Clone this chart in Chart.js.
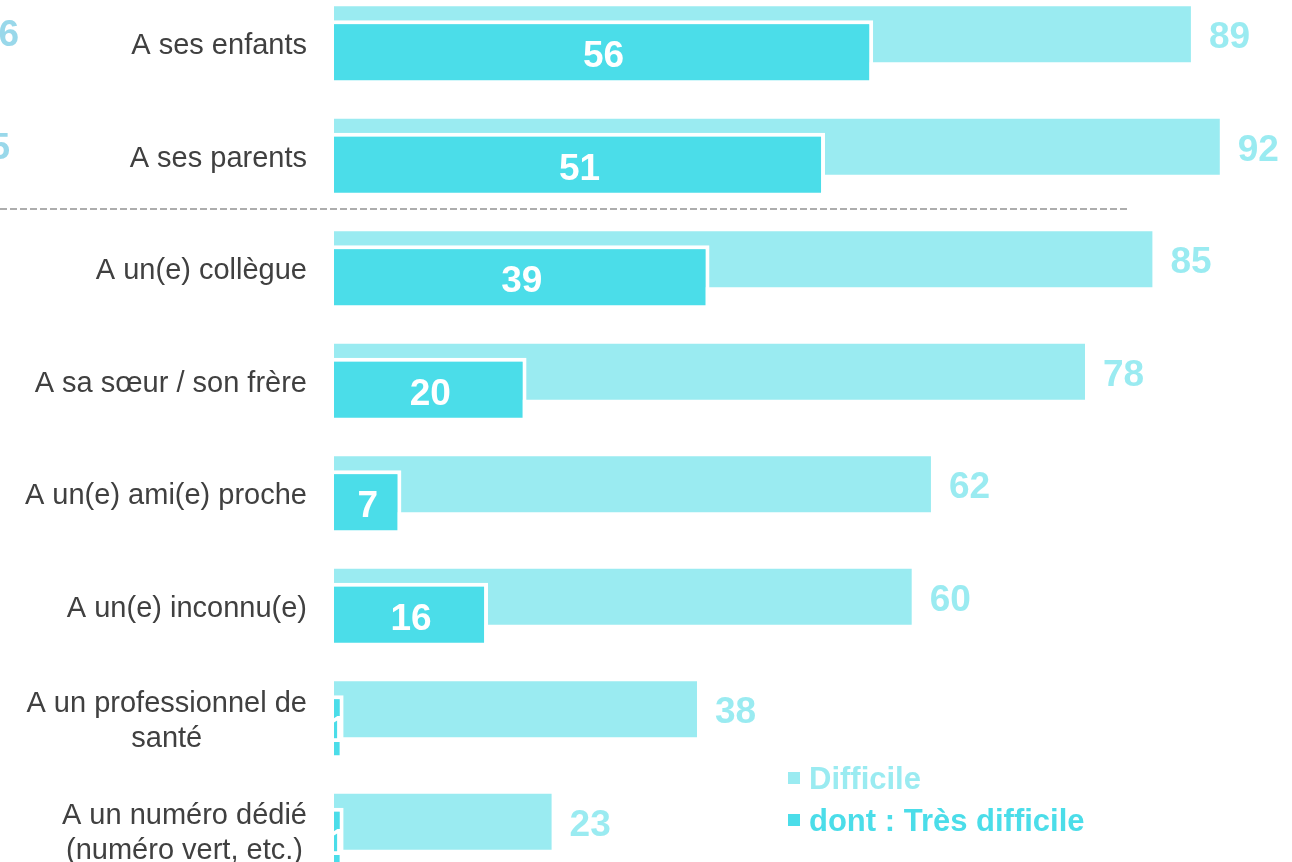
<!DOCTYPE html>
<html>
<head>
<meta charset="utf-8">
<script src="https://cdn.jsdelivr.net/npm/chart.js@4"></script>
<style>
  html, body { margin: 0; padding: 0; background: #fff; overflow: hidden; }
  #wrap { position: absolute; left: 0; top: -13px; width: 1292px; height: 900px; }
</style>
</head>
<body>
<div id="wrap"><canvas id="chart"></canvas></div>
<script>
// Categories (multi-line labels are arrays)
const categories = [
    'A ses enfants',
    'A ses parents',
    'A un(e) collègue',
    'A sa sœur / son frère',
    'A un(e) ami(e) proche',
    'A un(e) inconnu(e)',
    ['A un professionnel de', 'santé'],
    ['A un numéro dédié', '(numéro vert, etc.)']
];

// Series values
const difficile = [89, 92, 85, 78, 62, 60, 37.7, 22.6];
const tresDifficile = [56, 51, 39, 20, 7, 16, 1, 1];

const seriesLabels = ['Difficile', 'dont : Très difficile'];

// Cut-off value labels of the neighbouring chart on the left
const cutLabels = ['6', '5'];

const lightColor = '#9aebf1';
const darkColor = '#4bdde9';
const font = "'Liberation Sans', Arial, sans-serif";

// Draw the light series first so the dark bars sit on top of it.
const drawOrder = {
    id: 'drawOrder',
    beforeDatasetsDraw(chart) {
        const meta = chart.getDatasetMeta(0);
        meta.controller.draw();
    },
    beforeDatasetDraw(chart, args) {
        if (args.index === 0) return false;
    }
};

// Category labels, value labels, dashed separator and legend
const decorations = {
    id: 'decorations',
    afterDraw(chart) {
        const ctx = chart.ctx;
        const y = chart.scales.y;
        const light = chart.getDatasetMeta(0).data;
        const dark = chart.getDatasetMeta(1).data;

        ctx.save();

        // category labels: block right-aligned, lines centred in the block
        ctx.font = '29px ' + font;
        ctx.fillStyle = '#404040';
        ctx.textBaseline = 'middle';
        ctx.textAlign = 'center';
        categories.forEach((cat, i) => {
            const lines = Array.isArray(cat) ? cat : [cat];
            const w = Math.max(...lines.map(l => ctx.measureText(l).width));
            const cx = 307 - w / 2;
            const cy = y.getPixelForValue(i);
            const lh = 35;
            lines.forEach((l, k) => {
                ctx.fillText(l, cx, cy + (k - (lines.length - 1) / 2) * lh + 3);
            });
        });

        // value labels
        ctx.font = 'bold 37px ' + font;
        ctx.textAlign = 'left';
        ctx.fillStyle = lightColor;
        light.forEach((bar, i) => {
            ctx.fillText(String(Math.round(difficile[i])), bar.x + 18, bar.y + 4);
        });
        ctx.textAlign = 'center';
        ctx.fillStyle = '#ffffff';
        dark.forEach((bar, i) => {
            ctx.fillText(String(tresDifficile[i]), (bar.base + bar.x) / 2, bar.y + 5);
        });

        // cut-off labels at the left edge
        ctx.textAlign = 'right';
        ctx.fillStyle = '#99d8ea';
        ctx.fillText(cutLabels[0], 19, light[0].y + 2);
        ctx.fillText(cutLabels[1], 10, light[1].y + 2);

        // dashed separator between the 2nd and 3rd rows
        const sepY = (y.getPixelForValue(1) + y.getPixelForValue(2)) / 2 - 3;
        ctx.strokeStyle = '#adadad';
        ctx.lineWidth = 2;
        ctx.setLineDash([7, 3]);
        ctx.beginPath();
        ctx.moveTo(0, sepY);
        ctx.lineTo(1130, sepY);
        ctx.stroke();
        ctx.setLineDash([]);

        // legend
        const legendColors = [lightColor, darkColor];
        ctx.font = 'bold 31px ' + font;
        ctx.textAlign = 'left';
        seriesLabels.forEach((label, i) => {
            const ly = 791 + i * 42;
            ctx.fillStyle = legendColors[i];
            ctx.fillRect(788, ly - 6, 12, 12);
            ctx.fillText(label, 809, ly + 2);
        });

        ctx.restore();
    }
};

const ctx = document.getElementById('chart').getContext('2d');

new Chart(ctx, {
    type: 'bar',
    data: {
        labels: categories,
        datasets: [
            {
                label: seriesLabels[0],
                data: difficile,
                backgroundColor: lightColor,
                borderWidth: 0,
                categoryPercentage: 0.32,
                barPercentage: 3.11
            },
            {
                label: seriesLabels[1],
                data: tresDifficile,
                backgroundColor: darkColor,
                borderColor: '#ffffff',
                borderWidth: 4,
                borderSkipped: 'start',
                categoryPercentage: 0.32,
                barPercentage: 3.55
            }
        ]
    },
    options: {
        indexAxis: 'y',
        responsive: true,
        maintainAspectRatio: false,
        animation: false,
        devicePixelRatio: 1,
        layout: { padding: { left: 334, right: 0, top: 0, bottom: 0 } },
        plugins: {
            legend: { display: false },
            tooltip: { enabled: false }
        },
        scales: {
            x: { display: false, min: 0, max: 99.5 },
            y: { display: false }
        }
    },
    plugins: [drawOrder, decorations]
});
</script>
</body>
</html>
